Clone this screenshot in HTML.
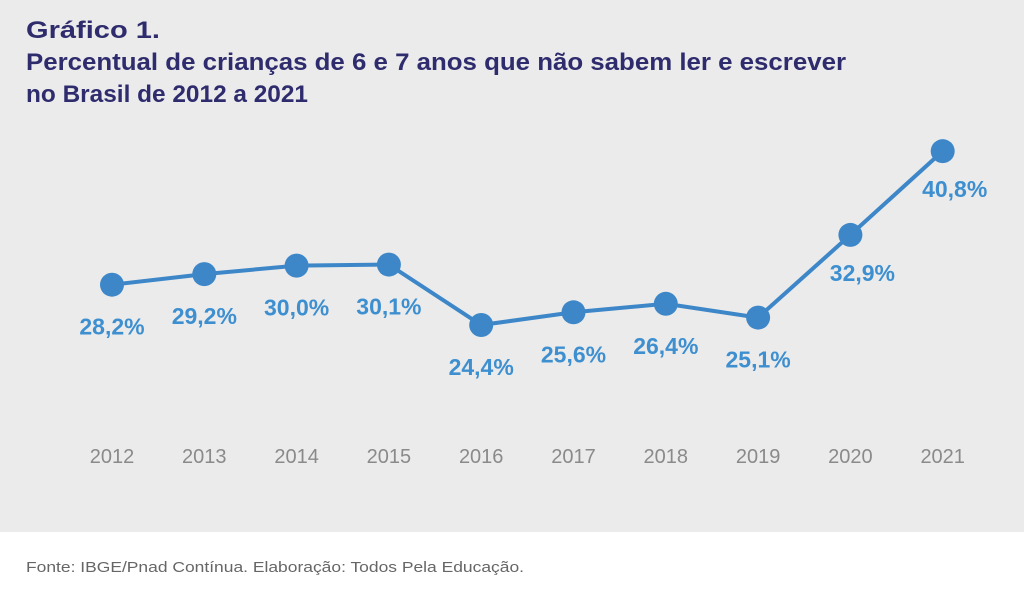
<!DOCTYPE html>
<html><head><meta charset="utf-8"><style>
body{margin:0;width:1024px;height:588px;overflow:hidden;background:#fff;font-family:"Liberation Sans",sans-serif}
</style></head><body>
<svg width="1024" height="588" xmlns="http://www.w3.org/2000/svg">
<rect x="0" y="0" width="1024" height="532" fill="#ebebeb"/>
<g fill="#2f2c6e" font-weight="bold" font-size="24">
<text x="26" y="38" textLength="134" lengthAdjust="spacingAndGlyphs">Gráfico 1.</text>
<text x="26" y="70" textLength="820" lengthAdjust="spacingAndGlyphs">Percentual de crianças de 6 e 7 anos que não sabem ler e escrever</text>
<text x="26" y="102" textLength="282" lengthAdjust="spacingAndGlyphs">no Brasil de 2012 a 2021</text>
</g>
<g id="plot"></g>
<text x="26" y="572" font-size="15" fill="#666" textLength="498" lengthAdjust="spacingAndGlyphs">Fonte: IBGE/Pnad Contínua. Elaboração: Todos Pela Educação.</text>
</svg>
<script>
const years = ["2012","2013","2014","2015","2016","2017","2018","2019","2020","2021"];
const values = [28.2,29.2,30.0,30.1,24.4,25.6,26.4,25.1,32.9,40.8];
const labels = ["28,2%","29,2%","30,0%","30,1%","24,4%","25,6%","26,4%","25,1%","32,9%","40,8%"];
const NS="http://www.w3.org/2000/svg";
const g=document.getElementById('plot');
function xs(i){return 112+i*92.3;}
function ys(v){return 325-(v-24.4)*10.6;}
function mk(t,a){const e=document.createElementNS(NS,t);for(const k in a)e.setAttribute(k,a[k]);g.appendChild(e);return e;}
const pl=mk('polyline',{points:values.map((v,i)=>xs(i)+','+ys(v)).join(' '),fill:'none',stroke:'#3d87c9','stroke-width':4});


values.forEach((v,i)=>{
 const c=mk('circle',{cx:xs(i),cy:ys(v),r:12,fill:'#3d87c9'});
 
 
 const right=i>=8;
 const t=mk('text',{x:xs(i)+(right?12:0),y:ys(v)+(right?46:50),'text-anchor':'middle','font-size':23,'font-weight':'bold',fill:'#3d8fd0'});
 t.textContent=labels[i];
 
 
 const y=mk('text',{x:xs(i),y:463,'text-anchor':'middle','font-size':20,fill:'#8a8a8a'});
 y.textContent=years[i];
 
 
});
</script>
</body></html>
